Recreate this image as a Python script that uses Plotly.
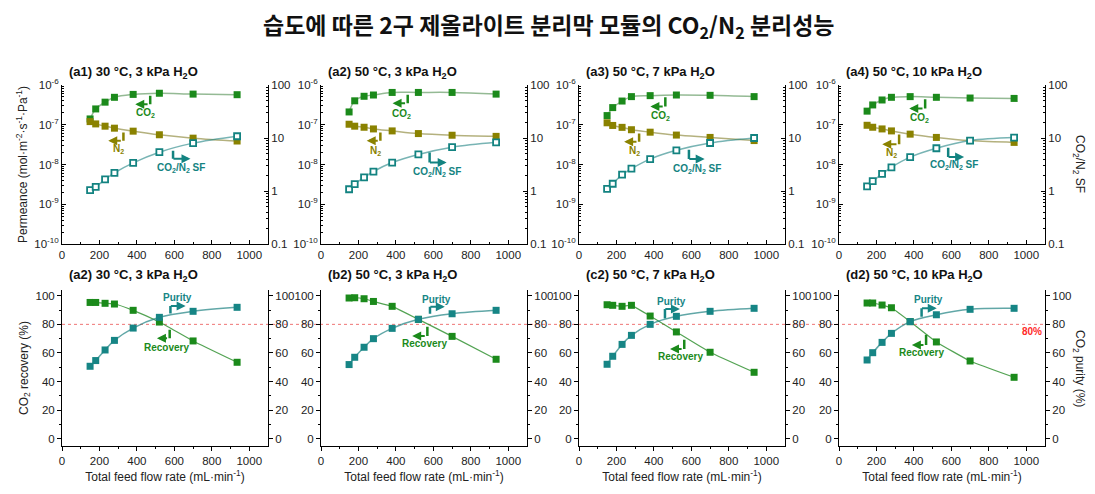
import plotly.graph_objects as go

# ---------------- data ----------------
flow = [150, 180, 230, 280, 380, 520, 700, 935]

top_titles = ["(a1) 30 °C, 3 kPa H<sub>2</sub>O", "(a2) 50 °C, 3 kPa H<sub>2</sub>O",
              "(a3) 50 °C, 7 kPa H<sub>2</sub>O", "(a4) 50 °C, 10 kPa H<sub>2</sub>O"]
bot_titles = ["(a2) 30 °C, 3 kPa H<sub>2</sub>O", "(b2) 50 °C, 3 kPa H<sub>2</sub>O",
              "(c2) 50 °C, 7 kPa H<sub>2</sub>O", "(d2) 50 °C, 10 kPa H<sub>2</sub>O"]

co2_a1 = [1.4e-7, 2.5e-7, 3.7e-7, 4.9e-7, 5.8e-7, 6.2e-7, 5.9e-7, 5.7e-7]
co2_a2 = [2.1e-7, 4.0e-7, 5.2e-7, 5.6e-7, 6.5e-7, 6.5e-7, 6.5e-7, 5.9e-7]
co2_a3 = [1.7e-7, 2.7e-7, 3.95e-7, 5.1e-7, 5.4e-7, 5.6e-7, 5.5e-7, 5.1e-7]
co2_a4 = [2.2e-7, 3.15e-7, 4.2e-7, 4.9e-7, 5.1e-7, 4.9e-7, 4.7e-7, 4.6e-7]

n2_a1 = [1.2e-7, 1.05e-7, 9.2e-8, 8.2e-8, 6.9e-8, 5.6e-8, 4.6e-8, 3.9e-8]
n2_a2 = [1.03e-7, 9.2e-8, 8.65e-8, 7.85e-8, 7.0e-8, 6.0e-8, 5.45e-8, 5.1e-8]
n2_a3 = [1.12e-7, 9.6e-8, 8.6e-8, 7.5e-8, 6.5e-8, 5.5e-8, 4.8e-8, 4.0e-8]
n2_a4 = [9.7e-8, 8.65e-8, 7.85e-8, 7.0e-8, 5.8e-8, 4.8e-8, 4.0e-8, 3.6e-8]

sf_a1 = [1.04, 1.2, 1.65, 2.2, 3.4, 5.4, 8.0, 10.8]
sf_a2 = [1.08, 1.35, 1.8, 2.33, 3.44, 4.9, 6.7, 8.3]
sf_a3 = [1.1, 1.37, 2.03, 2.64, 4.0, 5.85, 8.05, 10.0]
sf_a4 = [1.22, 1.53, 2.1, 2.8, 4.35, 6.4, 8.95, 10.2]

rec_a = [95.3, 95.3, 94.7, 94.2, 89.8, 81.6, 68.4, 53.5]
rec_b = [98.4, 98.6, 97.9, 96.0, 92.6, 83.5, 71.6, 55.6]
rec_c = [93.7, 93.3, 92.6, 93.3, 85.8, 74.7, 60.5, 46.5]
rec_d = [94.9, 94.9, 93.5, 91.6, 81.9, 67.7, 54.4, 43.0]

pur_a = [50.7, 54.7, 62.1, 68.8, 77.4, 84.9, 89.1, 91.9]
pur_b = [51.9, 57.0, 64.0, 70.0, 77.2, 83.5, 87.4, 89.8]
pur_c = [52.1, 57.7, 66.0, 72.3, 80.0, 85.6, 89.1, 91.2]
pur_d = [55.1, 60.2, 67.4, 73.7, 81.9, 86.7, 90.5, 91.2]

co2_sets = [co2_a1, co2_a2, co2_a3, co2_a4]
n2_sets = [n2_a1, n2_a2, n2_a3, n2_a4]
sf_sets = [sf_a1, sf_a2, sf_a3, sf_a4]
rec_sets = [rec_a, rec_b, rec_c, rec_d]
pur_sets = [pur_a, pur_b, pur_c, pur_d]

# ---------------- style / layout ----------------
OFF = 8                       # page body margin of the html page
W, H = 1095 - OFF, 494 - OFF  # figure size so that it fits the window exactly
C_CO2 = "#1b8a1b"
C_N2 = "#8a8200"
C_SF = "#138381"
C_REC = "#1b8a1b"
C_PUR = "#168585"
FONT = "Liberation Sans, Arial, Noto Sans CJK KR"

cols_px = [(62, 268), (321, 527), (579, 785), (839, 1045)]
top_px = (85, 244)
bot_px = (290, 446)


def px(v):
    return (v - OFF) / W


def py(v):
    return 1 - (v - OFF) / H


def dx(a, b):
    return [px(a), px(b)]


def dy(t, b):
    return [py(b), py(t)]


fig = go.Figure()
layout = dict(
    width=W, height=H, margin=dict(l=0, r=0, t=0, b=0, autoexpand=False),
    paper_bgcolor="white", plot_bgcolor="white", showlegend=False,
    font=dict(family=FONT, size=12, color="#222"),
)

log_major = [1e-10, 1e-9, 1e-8, 1e-7, 1e-6]
log_major_txt = ["10<sup>-10</sup>", "10<sup>-9</sup>", "10<sup>-8</sup>", "10<sup>-7</sup>", "10<sup>-6</sup>"]
log_minor = [m * 10 ** e for e in range(-10, -6) for m in range(2, 10)]
sf_major = [0.1, 1, 10, 100]
sf_major_txt = ["0.1", "1", "10", "100"]
sf_minor = [m * 10 ** e for e in range(-1, 2) for m in range(2, 10)]

axis_common = dict(showline=True, linecolor="black", linewidth=1, showgrid=False, automargin=False,
                   zeroline=False, tickcolor="black", tickfont=dict(size=11.5, color="#222"))

annotations = []
shapes = []

for i in range(8):
    n = i + 1
    row = 0 if i < 4 else 1
    c = i % 4
    xa = "xaxis" if n == 1 else f"xaxis{n}"
    ya = "yaxis" if n == 1 else f"yaxis{n}"
    ya2 = f"yaxis{n + 8}"
    xid, yid, y2id = f"x{n}" if n > 1 else "x", f"y{n}" if n > 1 else "y", f"y{n + 8}"
    ypx = top_px if row == 0 else bot_px

    xd = dict(axis_common, domain=dx(*cols_px[c]), anchor=yid, range=[0, 1100],
              tickvals=[0, 200, 400, 600, 800, 1000],
              minor=dict(tickvals=[100, 300, 500, 700, 900], ticklen=2, tickcolor="black",
                         ticks="outside" if row == 1 else "inside"),
              ticks="outside" if row == 1 else "inside", ticklen=4)
    if row == 1:
        xd["title"] = dict(text="Total feed flow rate (mL·min<sup>-1</sup>)", font=dict(size=12), standoff=6)
    layout[xa] = xd

    if row == 0:
        yd = dict(axis_common, domain=dy(*ypx), anchor=xid, type="log", range=[-10, -6],
                  tickvals=log_major, ticktext=log_major_txt, ticks="inside", ticklen=4,
                  minor=dict(tickvals=log_minor, ticks="inside", ticklen=2, tickcolor="black"))
        y2d = dict(axis_common, overlaying=yid, anchor=xid, side="right", type="log", range=[-1, 2],
                   tickvals=sf_major, ticktext=sf_major_txt, ticks="inside", ticklen=4,
                   minor=dict(tickvals=sf_minor, ticks="inside", ticklen=2, tickcolor="black"))
        if c == 0:
            yd["title"] = dict(text="Permeance (mol·m<sup>-2</sup>·s<sup>-1</sup>·Pa<sup>-1</sup>)",
                               font=dict(size=12), standoff=4)
    else:
        yd = dict(axis_common, domain=dy(*ypx), anchor=xid, range=[-5, 104],
                  tickvals=[0, 20, 40, 60, 80, 100], ticks="outside", ticklen=4,
                  minor=dict(tickvals=[10, 30, 50, 70, 90], ticks="outside", ticklen=2, tickcolor="black"))
        y2d = dict(axis_common, overlaying=yid, anchor=xid, side="right", range=[-5, 104],
                   tickvals=[0, 20, 40, 60, 80, 100], ticks="outside", ticklen=4,
                   ticklabelstandoff=0,
                   minor=dict(tickvals=[10, 30, 50, 70, 90], ticks="outside", ticklen=2, tickcolor="black"))
        if c == 0:
            yd["title"] = dict(text="CO<sub>2</sub> recovery (%)", font=dict(size=12), standoff=4)
    layout[ya] = yd
    layout[ya2] = y2d

    # panel title
    annotations.append(dict(
        text="<b>" + (top_titles[c] if row == 0 else bot_titles[c]) + "</b>",
        xref="paper", yref="paper", x=px(cols_px[c][0] + 5),
        y=py(72 if row == 0 else 275), xanchor="left", yanchor="middle",
        showarrow=False, font=dict(size=13, color="#111")))

    if row == 0:
        fig.add_trace(go.Scatter(x=flow, y=co2_sets[c], mode="lines+markers", xaxis=xid, yaxis=yid,
                                 line=dict(color="rgba(60,130,60,0.55)", width=1.5, shape="spline"),
                                 marker=dict(symbol="square", size=7, color=C_CO2)))
        fig.add_trace(go.Scatter(x=flow, y=n2_sets[c], mode="lines+markers", xaxis=xid, yaxis=yid,
                                 line=dict(color="rgba(130,125,40,0.6)", width=1.5, shape="spline"),
                                 marker=dict(symbol="square", size=7, color=C_N2)))
        fig.add_trace(go.Scatter(x=flow, y=sf_sets[c], mode="lines+markers", xaxis=xid, yaxis=y2id,
                                 line=dict(color="rgba(30,130,130,0.6)", width=1.5, shape="spline"),
                                 marker=dict(symbol="square", size=6, color="white",
                                             line=dict(color=C_SF, width=1.8))))
    else:
        fig.add_trace(go.Scatter(x=flow, y=rec_sets[c], mode="lines+markers", xaxis=xid, yaxis=yid,
                                 line=dict(color="rgba(40,140,40,0.8)", width=1.2, shape="spline",
                                           smoothing=0.4),
                                 marker=dict(symbol="square", size=7, color=C_REC)))
        fig.add_trace(go.Scatter(x=flow, y=pur_sets[c], mode="lines+markers", xaxis=xid, yaxis=y2id,
                                 line=dict(color="rgba(30,130,130,0.7)", width=1.5, shape="spline"),
                                 marker=dict(symbol="square", size=7, color=C_PUR)))

# ---------------- bracket arrows (annotation positions) ----------------
# (x_vertical, y_start, y_corner, x_arrow_end, label_x, label_y)  -- log10 units on top row
top_brackets = [
    [(471, -6.234, -6.485, 391, 444, -6.71), (328, -7.155, -7.405, 247, 301, -7.615), (593, -7.615, -7.858, 686, 633, -8.09)],
    [(463, -6.21, -6.46, 382, 432, -6.73), (317, -7.155, -7.405, 244, 290, -7.67), (580, -7.66, -7.95, 671, 619, -8.19)],
    [(461, -6.27, -6.54, 381, 434, -6.78), (321, -7.18, -7.43, 241, 296, -7.66), (587, -7.59, -7.86, 671, 632, -8.12)],
    [(460, -6.32, -6.59, 375, 430, -6.83), (321, -7.21, -7.49, 231, 280, -7.70), (583, -7.54, -7.81, 668, 614, -8.0)],
]
top_labels = ["CO<sub>2</sub>", "N<sub>2</sub>", "CO<sub>2</sub>/N<sub>2</sub> SF"]
top_colors = [C_CO2, C_N2, C_SF]

bot_brackets = [
    [(579, 86.5, 92.8, 660, 615, 98.6), (575, 77.2, 70.2, 507, 556, 64.0)],
    [(582, 86.3, 92.3, 661, 616, 97.7), (568, 79.3, 71.9, 487, 550, 66.3)],
    [(459, 83.0, 90.7, 539, 495, 96.3), (562, 70.2, 62.8, 486, 543, 57.4)],
    [(441, 84.2, 91.2, 522, 479, 97.7), (465, 73.7, 65.6, 389, 443, 60.2)],
]
bot_labels = ["Purity", "Recovery"]
bot_colors = [C_PUR, C_REC]


def bracket(xr, yr, spec, color, label):
    xv, y0, y1, xe, lx, ly = spec
    annotations.append(dict(x=xv, y=y1, ax=xv, ay=y0, xref=xr, yref=yr, axref=xr, ayref=yr,
                            showarrow=True, arrowhead=0, arrowwidth=2.5, arrowcolor=color,
                            text="", standoff=0, startstandoff=0))
    annotations.append(dict(x=xe, y=y1, ax=xv - 6, ay=y1, xref=xr, yref=yr, axref=xr, ayref=yr,
                            showarrow=True, arrowhead=2, arrowsize=0.9, arrowwidth=2, arrowcolor=color,
                            text="", standoff=0, startstandoff=0))
    annotations.append(dict(x=lx, y=ly, xref=xr, yref=yr, text="<b>" + label + "</b>", showarrow=False,
                            font=dict(size=10, color=color), xanchor="center", yanchor="middle"))


for c in range(4):
    n = c + 1
    xr = "x" if n == 1 else f"x{n}"
    yr = "y" if n == 1 else f"y{n}"
    for k in range(3):
        bracket(xr, yr, top_brackets[c][k], top_colors[k], top_labels[k])
    n = c + 5
    for k in range(2):
        bracket(f"x{n}", f"y{n}", bot_brackets[c][k], bot_colors[k], bot_labels[k])

# 80 % reference line across the bottom row
shapes.append(dict(type="line", xref="paper", yref="y5", x0=px(62), x1=px(1045), y0=80, y1=80,
                   line=dict(color="rgba(235,90,90,0.85)", width=1, dash="dot"), layer="below"))
annotations.append(dict(text="<b>80%</b>", xref="x8", yref="y8", x=1030, y=75, showarrow=False,
                        font=dict(size=10, color="#ff2a2a"), xanchor="center"))

# right-hand axis titles (reading top to bottom)
annotations.append(dict(text="CO<sub>2</sub>/N<sub>2</sub> SF", xref="paper", yref="paper",
                        x=px(1079), y=py(164), textangle=90, showarrow=False,
                        xanchor="center", yanchor="middle", font=dict(size=12, color="#222")))
annotations.append(dict(text="CO<sub>2</sub> purity (%)", xref="paper", yref="paper",
                        x=px(1079), y=py(368), textangle=90, showarrow=False,
                        xanchor="center", yanchor="middle", font=dict(size=12, color="#222")))

# main title
annotations.append(dict(text="<b>습도에 따른 2구 제올라이트 분리막 모듈의 CO<sub>2</sub>/N<sub>2</sub> 분리성능</b>",
                        xref="paper", yref="paper", x=px(549), y=py(26), showarrow=False,
                        font=dict(size=23, color="#111", family="Noto Sans CJK KR, Liberation Sans"),
                        xanchor="center", yanchor="middle"))

layout["annotations"] = annotations
layout["shapes"] = shapes
fig.update_layout(**layout)
fig.write_html("out.html")
